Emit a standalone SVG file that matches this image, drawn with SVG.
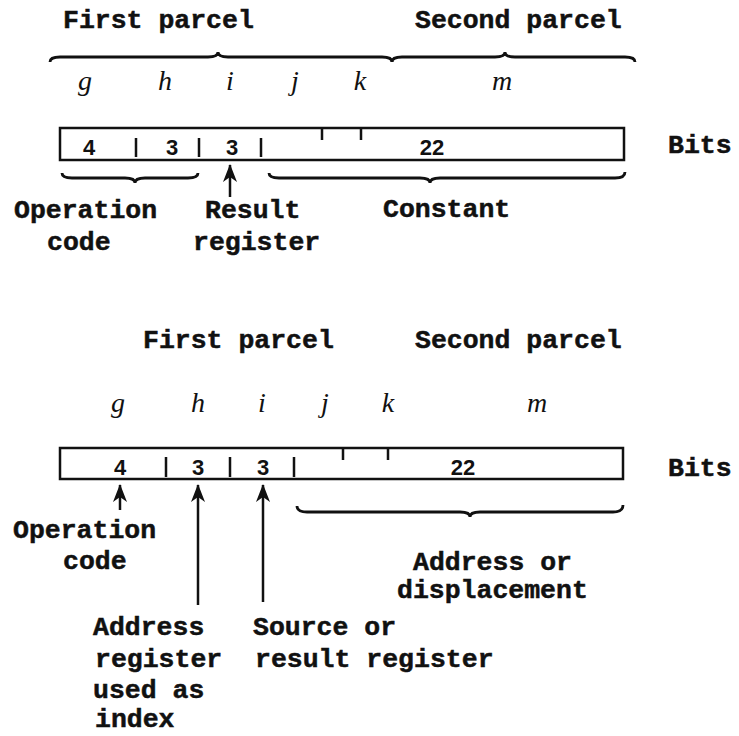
<svg xmlns="http://www.w3.org/2000/svg" width="739" height="736" viewBox="0 0 739 736">
<style>
.lbl{font-family:"Liberation Mono","Courier New",monospace;font-weight:bold;font-size:26.5px;fill:#111;stroke:#111;stroke-width:0.5}
.var{font-family:"Liberation Serif","Times New Roman",serif;font-style:italic;font-size:28px;fill:#111;text-anchor:middle}
.num{font-family:"Liberation Sans",Arial,sans-serif;font-weight:bold;font-size:22px;fill:#111;text-anchor:middle}
.box{fill:none;stroke:#111;stroke-width:2.5}
.ln{fill:none;stroke:#111;stroke-width:2.5}
.br{fill:none;stroke:#111;stroke-width:2.8}
</style>
<defs>
<marker id="ah" viewBox="0 0 18 14" refX="17" refY="7" markerWidth="18" markerHeight="14" markerUnits="userSpaceOnUse" orient="auto">
<path d="M0,0 L18,7 L0,14 L5,7 Z" fill="#111"/>
</marker>
</defs>
<rect width="739" height="736" fill="#fff"/>

<g id="format1">
<text class="lbl" x="63" y="28">First parcel</text>
<text class="lbl" x="415" y="28">Second parcel</text>
<g id="brace-first1"><path class="br" d="M50,62 Q50,57 60,57 L208,57 Q218,57 218,52 Q218,57 228,57 L382,57 Q392,57 392,62"/></g>
<g id="brace-second1"><path class="br" d="M392,62 Q392,57 402,57 L495,57 Q505,57 505,52 Q505,57 515,57 L625,57 Q635,57 635,62"/></g>
<text class="var" x="85" y="90">g</text>
<text class="var" x="165" y="90">h</text>
<text class="var" x="230" y="90">i</text>
<text class="var" x="295" y="90">j</text>
<text class="var" x="360" y="90">k</text>
<text class="var" x="502" y="90">m</text>
<g id="box1">
<rect class="box" x="60" y="128" width="564" height="32"/>
<path class="ln" d="M136,138 V157 M199,138 V157 M261,138 V157 M322,128 V140 M361,128 V140"/>
<text class="num" x="89" y="155">4</text>
<text class="num" x="172" y="155">3</text>
<text class="num" x="232" y="155">3</text>
<text class="num" x="432" y="155">22</text>
</g>
<text class="lbl" x="668" y="153">Bits</text>
<g id="brace-op1"><path class="br" d="M62,173 Q62,178 72,178 L125,178 Q135,178 135,183 Q135,178 145,178 L188,178 Q198,178 198,173"/></g>
<g id="brace-const1"><path class="br" d="M269,173 Q269,178 279,178 L420,178 Q430,178 430,183 Q430,178 440,178 L615,178 Q625,178 625,172"/></g>
<g id="opcode1"><text class="lbl" x="14" y="218">Operation</text><text class="lbl" x="47" y="250">code</text></g>
<g id="result1"><text class="lbl" x="205" y="218">Result</text><text class="lbl" x="193" y="250">register</text></g>
<g id="const1"><text class="lbl" x="383" y="217">Constant</text></g>
</g>

<g id="format2">
<text class="lbl" x="143" y="348">First parcel</text>
<text class="lbl" x="415" y="348">Second parcel</text>
<text class="var" x="118" y="412">g</text>
<text class="var" x="198" y="412">h</text>
<text class="var" x="262" y="412">i</text>
<text class="var" x="325" y="412">j</text>
<text class="var" x="388" y="412">k</text>
<text class="var" x="537" y="412">m</text>
<g id="box2">
<rect class="box" x="60" y="448" width="563" height="31"/>
<path class="ln" d="M166,457 V477 M230,457 V477 M294,457 V477 M343,448 V460 M388,448 V460"/>
<text class="num" x="120" y="475">4</text>
<text class="num" x="198" y="475">3</text>
<text class="num" x="263" y="475">3</text>
<text class="num" x="463" y="475">22</text>
</g>
<text class="lbl" x="668" y="476">Bits</text>
<g id="brace-addr2"><path class="br" d="M297,506 Q297,512 307,512 L460,512 Q470,512 470,517 Q470,512 480,512 L613,512 Q623,512 623,505"/></g>
<g id="opcode2"><text class="lbl" x="13" y="538">Operation</text><text class="lbl" x="63" y="569">code</text></g>
<g id="addrdisp2"><text class="lbl" x="413" y="570">Address or</text><text class="lbl" x="397" y="598">displacement</text></g>
<g id="index2"><text class="lbl" x="93" y="635">Address</text><text class="lbl" x="95" y="667">register</text><text class="lbl" x="93" y="698">used as</text><text class="lbl" x="95" y="727">index</text></g>
<g id="source2"><text class="lbl" x="253" y="635">Source or</text><text class="lbl" x="255" y="667">result register</text></g>
</g>

<g id="connectors">
<line class="ln" x1="230" y1="197" x2="230" y2="165" marker-end="url(#ah)"/>
<line class="ln" x1="120" y1="510" x2="120" y2="485" marker-end="url(#ah)"/>
<line class="ln" x1="198" y1="605" x2="198" y2="485" marker-end="url(#ah)"/>
<line class="ln" x1="263" y1="602" x2="263" y2="485" marker-end="url(#ah)"/>
</g>
</svg>
